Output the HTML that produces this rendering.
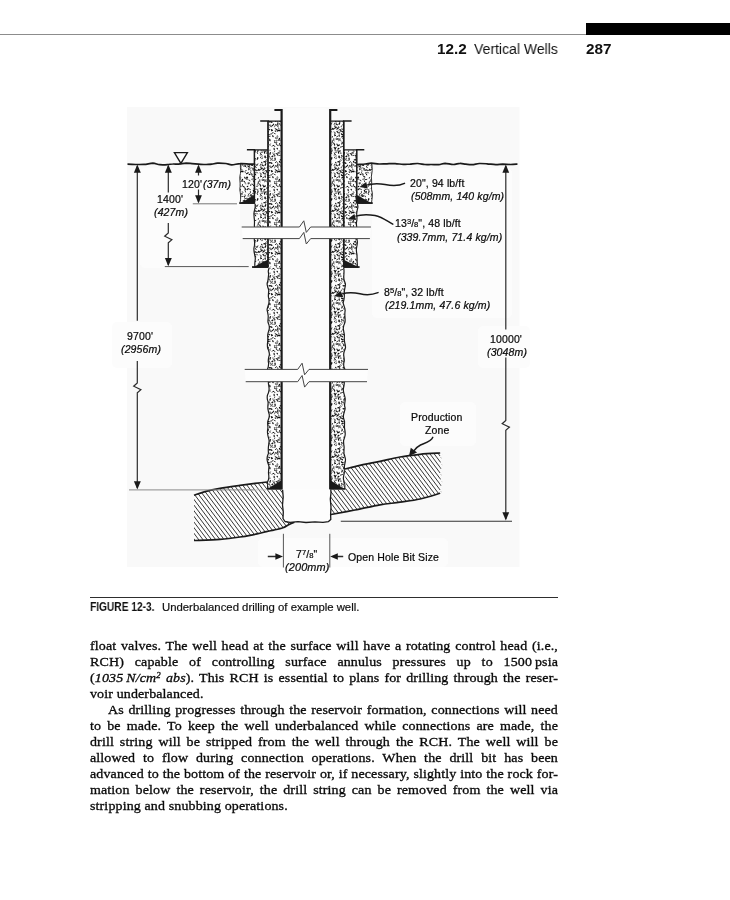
<!DOCTYPE html>
<html><head><meta charset="utf-8"><title>12.2 Vertical Wells</title>
<style>
html,body{margin:0;padding:0;background:#fff}
body{width:730px;height:900px;position:relative;overflow:hidden;font-family:"Liberation Sans",sans-serif;color:#111}
.l,.hd,.b{will-change:transform}
.l{position:absolute;font-size:10.5px;line-height:1;white-space:nowrap;letter-spacing:.13px;color:#0a0a0a;-webkit-text-stroke:.22px #0a0a0a}
.i{font-style:italic}
.fr{letter-spacing:0}
.fr .n{font-size:7.6px;position:relative;top:-3.1px}
.fr .d{font-size:7.6px;position:relative;top:0}
.hd{position:absolute;white-space:nowrap;line-height:1;color:#111}
.b{position:absolute;left:90px;width:447.85px;transform:scaleX(1.045);transform-origin:0 0;font-family:"Liberation Serif",serif;font-size:13.4px;line-height:16px;height:16px;white-space:nowrap;color:#0a0a0a;letter-spacing:.12px;-webkit-text-stroke:.32px #0a0a0a}
.b.j{white-space:normal;text-align:justify;text-align-last:justify}
.b.ind{left:108px;width:430.6px}
.b sup{font-size:8.5px;line-height:0;vertical-align:4.5px}
</style></head><body>
<div style="position:absolute;left:0;top:34px;width:587px;height:1px;background:#8c8c8c"></div>
<div style="position:absolute;left:586px;top:23px;width:144px;height:12px;background:#000"></div>
<div class="hd" style="left:436.6px;top:41.75px;font-size:14.3px;font-weight:bold;transform:scaleX(1.07);transform-origin:0 0">12.2</div>
<div class="hd" style="left:474.3px;top:40.85px;font-size:15.1px;transform:scaleX(.928);transform-origin:0 0">Vertical Wells</div>
<div class="hd" style="left:585.7px;top:41.75px;font-size:14.3px;font-weight:bold;transform:scaleX(1.07);transform-origin:0 0">287</div>
<svg width="730" height="900" viewBox="0 0 730 900" style="position:absolute;left:0;top:0">
<defs><pattern id="cem" width="37" height="41" patternUnits="userSpaceOnUse"><rect width="37" height="41" fill="#fdfdfd"/><g stroke="#0c0c0c" stroke-linecap="round" fill="none"><path d="M1.6 0.2Q1.8 1.1 1.1 1.7" stroke-width="0.70"/><path d="M1.6 41.2Q1.8 42.1 1.1 42.7" stroke-width="0.70"/><path d="M38.6 0.2Q38.8 1.1 38.1 1.7" stroke-width="0.70"/><path d="M38.6 41.2Q38.8 42.1 38.1 42.7" stroke-width="0.70"/><path d="M2.9 0.8Q3.6 1.3 4.3 1.8" stroke-width="1.10"/><path d="M2.9 41.8Q3.6 42.3 4.3 42.8" stroke-width="1.10"/><path d="M6.8 -0.3Q6.4 0.5 6.1 1.4" stroke-width="1.25"/><path d="M6.8 40.7Q6.4 41.5 6.1 42.4" stroke-width="1.25"/><path d="M9.6 2.0Q10.4 2.5 11.3 2.2" stroke-width="0.90"/><path d="M14.6 1.2Q14.1 2.0 13.4 2.7" stroke-width="1.10"/><path d="M14.6 42.2Q14.1 43.0 13.4 43.7" stroke-width="1.10"/><path d="M16.5 1.8Q16.9 1.8 17.3 2.1" stroke-width="1.25"/><path d="M18.8 0.2Q18.9 0.8 18.7 1.4" stroke-width="1.10"/><path d="M18.8 41.2Q18.9 41.8 18.7 42.4" stroke-width="1.10"/><path d="M20.7 0.8Q20.5 1.0 20.1 1.0" stroke-width="1.10"/><path d="M20.7 41.8Q20.5 42.0 20.1 42.0" stroke-width="1.10"/><path d="M23.7 1.8Q22.8 1.8 21.8 2.0" stroke-width="1.25"/><path d="M25.9 1.9Q26.2 2.1 26.4 2.4" stroke-width="1.25"/><path d="M27.4 1.4Q27.7 1.7 27.7 2.2" stroke-width="1.00"/><path d="M27.4 42.4Q27.7 42.7 27.7 43.2" stroke-width="1.00"/><path d="M29.1 1.3Q30.0 1.2 30.8 1.5" stroke-width="0.90"/><path d="M29.1 42.3Q30.0 42.2 30.8 42.5" stroke-width="0.90"/><path d="M33.6 0.7Q34.4 0.3 35.0 1.0" stroke-width="0.80"/><path d="M33.6 41.7Q34.4 41.3 35.0 42.0" stroke-width="0.80"/><path d="M-1.1 -0.1Q-1.4 0.9 -2.2 1.6" stroke-width="0.90"/><path d="M-1.1 40.9Q-1.4 41.9 -2.2 42.6" stroke-width="0.90"/><path d="M35.9 -0.1Q35.6 0.9 34.8 1.6" stroke-width="0.90"/><path d="M35.9 40.9Q35.6 41.9 34.8 42.6" stroke-width="0.90"/><path d="M1.9 2.7Q1.9 3.4 2.1 4.1" stroke-width="1.10"/><path d="M3.3 4.2Q2.9 4.4 2.5 4.8" stroke-width="1.25"/><path d="M5.8 3.8Q6.3 4.6 5.7 5.2" stroke-width="1.00"/><path d="M8.4 3.0Q8.2 3.4 8.2 3.8" stroke-width="0.90"/><path d="M12.0 2.7Q12.0 3.7 10.9 4.0" stroke-width="0.70"/><path d="M12.8 2.9Q12.5 3.3 12.4 3.8" stroke-width="0.80"/><path d="M15.8 2.9Q15.8 3.4 15.5 3.9" stroke-width="0.70"/><path d="M18.9 2.1Q19.2 2.9 18.9 3.7" stroke-width="0.90"/><path d="M23.5 2.4Q23.6 3.0 24.1 3.3" stroke-width="1.00"/><path d="M27.1 2.5Q26.8 2.8 26.5 3.1" stroke-width="0.90"/><path d="M26.9 3.2Q27.3 4.1 28.4 4.2" stroke-width="0.80"/><path d="M29.8 4.0Q30.5 4.4 31.3 4.5" stroke-width="1.00"/><path d="M33.6 2.6Q33.9 3.1 34.2 3.7" stroke-width="1.00"/><path d="M1.3 5.6Q0.6 6.0 -0.0 6.4" stroke-width="1.10"/><path d="M38.3 5.6Q37.6 6.0 37.0 6.4" stroke-width="1.10"/><path d="M5.2 4.8Q4.4 5.3 3.9 6.2" stroke-width="1.10"/><path d="M7.1 6.4Q6.0 6.1 5.4 7.2" stroke-width="0.70"/><path d="M8.3 6.0Q7.2 6.4 7.2 7.6" stroke-width="1.00"/><path d="M9.7 6.2Q10.1 6.6 10.6 6.8" stroke-width="1.10"/><path d="M12.3 6.7Q12.6 7.1 13.1 7.0" stroke-width="1.10"/><path d="M16.0 5.3Q16.4 6.0 17.2 6.2" stroke-width="0.80"/><path d="M17.1 6.4Q18.1 6.8 19.0 7.2" stroke-width="1.10"/><path d="M19.6 5.1Q20.1 5.5 20.5 6.1" stroke-width="1.00"/><path d="M24.3 6.5Q24.2 6.9 23.8 6.9" stroke-width="1.00"/><path d="M26.6 4.7Q26.8 5.2 26.6 5.8" stroke-width="0.90"/><path d="M27.4 4.9Q28.2 5.6 28.8 6.4" stroke-width="0.80"/><path d="M30.8 5.7Q31.3 5.7 31.7 5.9" stroke-width="1.10"/><path d="M32.4 6.2Q33.5 5.6 34.3 6.4" stroke-width="1.25"/><path d="M-0.5 5.3Q-0.6 6.0 -1.2 6.4" stroke-width="1.10"/><path d="M36.5 5.3Q36.4 6.0 35.8 6.4" stroke-width="1.10"/><path d="M1.1 8.8Q1.6 8.8 1.7 9.3" stroke-width="0.90"/><path d="M38.1 8.8Q38.6 8.8 38.7 9.3" stroke-width="0.90"/><path d="M4.0 8.5Q4.8 8.7 4.9 9.5" stroke-width="1.25"/><path d="M7.4 8.3Q6.9 9.0 6.5 9.7" stroke-width="0.70"/><path d="M8.6 8.0Q9.0 8.4 9.5 8.8" stroke-width="1.10"/><path d="M13.3 7.3Q12.8 7.3 12.6 7.7" stroke-width="1.25"/><path d="M16.2 7.7Q16.2 8.2 16.6 8.3" stroke-width="1.10"/><path d="M19.6 7.0Q19.4 8.2 18.2 8.4" stroke-width="0.90"/><path d="M21.1 7.6Q20.3 7.7 19.6 7.6" stroke-width="1.25"/><path d="M23.0 7.7Q23.3 8.2 23.4 8.7" stroke-width="0.70"/><path d="M26.3 8.8Q25.4 9.4 24.5 9.8" stroke-width="1.10"/><path d="M28.7 7.7Q28.2 8.5 28.7 9.3" stroke-width="0.80"/><path d="M34.0 8.7Q33.2 8.4 32.5 8.9" stroke-width="0.80"/><path d="M34.9 8.2Q35.1 8.7 35.4 9.0" stroke-width="0.90"/><path d="M2.2 10.0Q1.3 10.9 1.7 12.0" stroke-width="0.90"/><path d="M5.7 9.7Q5.7 10.3 6.2 10.7" stroke-width="0.80"/><path d="M8.4 10.8Q8.7 11.6 9.6 11.7" stroke-width="1.25"/><path d="M11.6 11.0Q11.0 11.1 10.5 11.5" stroke-width="0.70"/><path d="M13.5 9.7Q12.6 10.0 12.5 11.0" stroke-width="0.90"/><path d="M14.7 9.9Q15.2 10.8 16.1 10.8" stroke-width="0.90"/><path d="M27.9 10.3Q27.6 10.4 27.3 10.5" stroke-width="1.25"/><path d="M29.7 9.9Q30.2 10.5 30.0 11.2" stroke-width="1.10"/><path d="M32.8 9.3Q33.8 9.8 33.8 10.9" stroke-width="1.00"/><path d="M2.6 12.4Q2.0 12.2 1.5 12.6" stroke-width="1.00"/><path d="M39.6 12.4Q39.0 12.2 38.5 12.6" stroke-width="1.00"/><path d="M4.5 13.3Q3.9 13.4 3.6 13.8" stroke-width="0.90"/><path d="M6.2 12.0Q6.0 12.5 6.2 13.1" stroke-width="1.25"/><path d="M9.4 13.2Q9.2 13.6 8.8 13.9" stroke-width="1.25"/><path d="M11.1 13.2Q10.3 13.2 9.6 13.6" stroke-width="1.00"/><path d="M13.6 12.8Q14.1 13.0 14.1 13.5" stroke-width="1.25"/><path d="M18.2 12.9Q18.8 12.7 19.1 13.2" stroke-width="0.80"/><path d="M22.7 13.3Q23.0 13.7 23.2 14.3" stroke-width="1.10"/><path d="M25.5 13.3Q25.0 13.2 24.6 13.3" stroke-width="1.25"/><path d="M30.8 12.3Q31.1 12.9 31.8 13.0" stroke-width="1.25"/><path d="M-0.5 13.4Q-0.3 13.9 -0.6 14.3" stroke-width="0.90"/><path d="M36.5 13.4Q36.7 13.9 36.4 14.3" stroke-width="0.90"/><path d="M0.7 15.7Q0.5 16.4 0.9 16.9" stroke-width="0.90"/><path d="M37.7 15.7Q37.5 16.4 37.9 16.9" stroke-width="0.90"/><path d="M4.7 15.9Q3.9 16.2 3.1 16.0" stroke-width="1.25"/><path d="M5.5 16.1Q6.4 16.3 7.2 16.1" stroke-width="1.00"/><path d="M9.8 15.7Q10.1 16.7 11.2 16.8" stroke-width="1.00"/><path d="M16.3 14.6Q16.1 15.0 16.4 15.4" stroke-width="0.70"/><path d="M18.1 13.9Q18.3 14.9 17.9 15.9" stroke-width="0.90"/><path d="M20.6 15.4Q19.9 16.3 19.9 17.3" stroke-width="1.25"/><path d="M24.0 15.0Q24.4 15.2 24.9 15.2" stroke-width="0.80"/><path d="M24.7 14.7Q25.2 14.6 25.6 14.9" stroke-width="1.00"/><path d="M27.0 15.9Q27.8 16.0 28.0 16.8" stroke-width="1.00"/><path d="M31.4 14.8Q30.7 15.2 29.8 15.3" stroke-width="0.90"/><path d="M33.9 15.4Q33.1 15.8 32.1 15.6" stroke-width="0.90"/><path d="M0.1 17.2Q0.8 17.3 1.2 17.8" stroke-width="0.70"/><path d="M37.1 17.2Q37.8 17.3 38.2 17.8" stroke-width="0.70"/><path d="M6.6 17.2Q6.1 17.6 5.5 17.8" stroke-width="0.70"/><path d="M7.6 17.6Q7.5 18.0 7.8 18.2" stroke-width="0.80"/><path d="M10.7 17.2Q10.7 17.6 11.1 17.8" stroke-width="1.10"/><path d="M15.5 17.6Q15.9 18.6 15.7 19.6" stroke-width="0.80"/><path d="M18.1 17.8Q17.6 18.2 17.0 17.8" stroke-width="1.00"/><path d="M20.8 17.1Q21.2 16.9 21.5 17.2" stroke-width="0.70"/><path d="M22.3 17.3Q22.5 18.3 23.3 18.9" stroke-width="0.90"/><path d="M26.2 18.9Q26.7 19.0 27.2 19.0" stroke-width="1.00"/><path d="M31.3 16.8Q31.4 17.4 31.7 17.9" stroke-width="1.00"/><path d="M-0.6 17.8Q-0.6 18.8 -0.9 19.7" stroke-width="1.00"/><path d="M36.4 17.8Q36.4 18.8 36.1 19.7" stroke-width="1.00"/><path d="M0.7 20.1Q1.1 20.9 1.6 21.7" stroke-width="1.10"/><path d="M37.7 20.1Q38.1 20.9 38.6 21.7" stroke-width="1.10"/><path d="M3.7 21.3Q4.1 21.5 4.5 21.4" stroke-width="1.00"/><path d="M9.2 19.3Q9.6 20.4 8.7 21.0" stroke-width="1.10"/><path d="M11.4 20.9Q11.1 21.3 10.6 21.7" stroke-width="0.70"/><path d="M16.5 19.7Q16.6 20.4 17.2 20.7" stroke-width="0.80"/><path d="M17.9 19.2Q18.1 20.1 17.3 20.5" stroke-width="0.80"/><path d="M20.4 20.5Q20.0 21.2 20.4 21.9" stroke-width="0.90"/><path d="M23.2 19.7Q23.4 20.1 23.8 20.1" stroke-width="0.70"/><path d="M27.1 19.6Q26.7 20.0 26.1 19.8" stroke-width="1.00"/><path d="M29.4 19.9Q28.5 20.5 28.6 21.5" stroke-width="0.90"/><path d="M30.5 20.2Q31.2 21.0 31.8 21.8" stroke-width="1.00"/><path d="M-1.8 20.8Q-1.3 20.9 -0.8 21.1" stroke-width="0.70"/><path d="M35.2 20.8Q35.7 20.9 36.2 21.1" stroke-width="0.70"/><path d="M1.9 22.4Q1.6 22.6 1.3 22.9" stroke-width="0.80"/><path d="M38.9 22.4Q38.6 22.6 38.3 22.9" stroke-width="0.80"/><path d="M4.6 22.2Q4.8 22.6 4.8 22.9" stroke-width="0.80"/><path d="M6.4 22.0Q5.6 22.4 4.8 22.7" stroke-width="1.25"/><path d="M9.4 23.5Q8.5 23.8 7.5 24.1" stroke-width="1.00"/><path d="M11.6 22.0Q11.2 21.8 11.0 22.1" stroke-width="0.70"/><path d="M13.3 22.7Q13.0 22.9 13.0 23.2" stroke-width="0.90"/><path d="M14.4 22.3Q15.4 22.4 15.8 23.4" stroke-width="1.00"/><path d="M17.6 21.7Q18.2 22.3 19.1 22.5" stroke-width="1.00"/><path d="M21.2 22.4Q21.7 22.6 22.2 22.9" stroke-width="1.10"/><path d="M22.7 23.5Q22.9 23.8 23.1 24.0" stroke-width="0.90"/><path d="M25.8 22.2Q25.6 22.6 25.2 22.6" stroke-width="1.10"/><path d="M32.8 23.5Q32.1 23.5 31.9 24.2" stroke-width="0.90"/><path d="M34.2 22.3Q34.9 22.1 35.5 22.3" stroke-width="0.70"/><path d="M1.3 24.6Q1.8 25.2 2.4 25.8" stroke-width="1.25"/><path d="M38.3 24.6Q38.8 25.2 39.4 25.8" stroke-width="1.25"/><path d="M3.1 24.4Q2.3 25.0 2.5 25.9" stroke-width="1.10"/><path d="M6.0 25.4Q5.2 25.5 4.9 26.2" stroke-width="1.10"/><path d="M15.1 25.2Q14.9 26.0 15.3 26.6" stroke-width="1.10"/><path d="M18.0 25.3Q18.4 25.5 18.5 25.9" stroke-width="1.10"/><path d="M23.0 24.5Q23.3 24.9 23.7 25.3" stroke-width="1.10"/><path d="M26.8 24.7Q25.7 24.6 25.1 25.6" stroke-width="1.10"/><path d="M27.6 25.4Q27.9 25.7 28.4 25.7" stroke-width="0.90"/><path d="M34.0 25.0Q33.0 25.1 32.1 25.7" stroke-width="0.80"/><path d="M-1.0 25.5Q-1.5 26.0 -2.1 25.7" stroke-width="0.80"/><path d="M36.0 25.5Q35.5 26.0 34.9 25.7" stroke-width="0.80"/><path d="M1.9 26.9Q2.4 27.3 2.3 27.9" stroke-width="0.90"/><path d="M5.3 27.6Q4.5 27.5 3.6 27.8" stroke-width="0.70"/><path d="M7.1 27.8Q6.9 28.1 6.6 28.2" stroke-width="1.25"/><path d="M11.1 27.0Q11.2 27.3 11.0 27.6" stroke-width="0.80"/><path d="M15.8 28.0Q15.8 28.9 15.0 29.4" stroke-width="0.70"/><path d="M20.2 27.9Q20.6 28.0 21.0 28.2" stroke-width="0.80"/><path d="M22.8 26.0Q23.5 26.9 23.6 28.0" stroke-width="0.80"/><path d="M28.5 27.6Q28.9 28.8 27.8 29.5" stroke-width="0.90"/><path d="M31.3 26.3Q31.8 27.2 32.2 28.2" stroke-width="1.25"/><path d="M33.3 27.3Q33.3 28.2 33.2 29.1" stroke-width="1.00"/><path d="M-1.1 26.7Q-0.7 27.7 -1.3 28.5" stroke-width="1.10"/><path d="M35.9 26.7Q36.3 27.7 35.7 28.5" stroke-width="1.10"/><path d="M1.2 29.9Q1.2 31.0 2.3 31.4" stroke-width="0.90"/><path d="M38.2 29.9Q38.2 31.0 39.3 31.4" stroke-width="0.90"/><path d="M3.7 29.2Q3.1 28.9 2.5 29.3" stroke-width="0.70"/><path d="M5.3 28.7Q5.6 29.4 5.7 30.1" stroke-width="1.25"/><path d="M7.8 29.8Q7.8 30.2 7.9 30.6" stroke-width="0.90"/><path d="M11.5 29.6Q10.9 30.3 11.0 31.2" stroke-width="1.25"/><path d="M13.6 30.0Q14.6 30.6 14.9 31.6" stroke-width="0.70"/><path d="M15.8 30.7Q15.5 31.1 15.2 31.5" stroke-width="0.90"/><path d="M19.4 29.8Q18.4 30.2 17.5 30.6" stroke-width="1.00"/><path d="M20.2 29.2Q20.3 30.0 20.0 30.7" stroke-width="0.80"/><path d="M23.0 30.7Q23.2 31.1 23.4 31.5" stroke-width="0.70"/><path d="M26.4 30.1Q26.6 30.6 26.8 31.0" stroke-width="1.00"/><path d="M28.5 30.3Q29.2 30.3 29.8 30.7" stroke-width="0.70"/><path d="M30.5 29.3Q31.1 29.3 31.6 29.6" stroke-width="0.70"/><path d="M-1.9 29.3Q-2.0 30.2 -1.3 30.8" stroke-width="0.80"/><path d="M35.1 29.3Q35.0 30.2 35.7 30.8" stroke-width="0.80"/><path d="M2.1 31.6Q1.6 31.8 1.1 32.0" stroke-width="0.90"/><path d="M39.1 31.6Q38.6 31.8 38.1 32.0" stroke-width="0.90"/><path d="M3.2 32.8Q3.3 33.3 3.0 33.5" stroke-width="0.90"/><path d="M6.1 33.1Q6.3 33.5 6.2 33.9" stroke-width="1.25"/><path d="M8.8 32.5Q8.6 32.9 9.0 33.2" stroke-width="1.25"/><path d="M10.6 32.9Q10.0 33.1 9.9 33.7" stroke-width="0.90"/><path d="M13.9 33.0Q13.4 33.4 12.9 33.6" stroke-width="1.10"/><path d="M16.0 32.8Q15.7 32.8 15.3 32.9" stroke-width="1.10"/><path d="M18.2 31.3Q18.4 32.0 19.1 32.2" stroke-width="1.10"/><path d="M21.1 32.4Q20.7 32.4 20.2 32.5" stroke-width="0.90"/><path d="M22.9 32.1Q22.5 32.5 22.5 33.1" stroke-width="1.10"/><path d="M25.8 31.9Q26.4 31.8 27.0 32.1" stroke-width="0.80"/><path d="M28.5 31.7Q28.9 32.4 29.7 32.2" stroke-width="1.10"/><path d="M29.6 31.9Q30.3 31.8 30.9 32.0" stroke-width="1.25"/><path d="M32.3 32.0Q32.6 32.3 32.6 32.8" stroke-width="0.90"/><path d="M1.4 34.1Q1.9 34.3 1.9 34.8" stroke-width="1.00"/><path d="M38.4 34.1Q38.9 34.3 38.9 34.8" stroke-width="1.00"/><path d="M3.3 34.9Q3.0 35.2 3.0 35.7" stroke-width="1.00"/><path d="M5.7 33.9Q6.3 34.1 6.4 34.8" stroke-width="1.10"/><path d="M8.0 34.4Q8.4 35.3 9.3 35.9" stroke-width="0.80"/><path d="M10.9 34.2Q10.8 35.0 11.3 35.7" stroke-width="0.70"/><path d="M13.3 35.1Q13.2 35.4 13.2 35.8" stroke-width="0.90"/><path d="M16.0 35.0Q16.0 35.7 16.2 36.3" stroke-width="1.25"/><path d="M24.4 34.3Q23.5 34.5 22.6 34.9" stroke-width="1.00"/><path d="M25.6 34.5Q26.4 34.9 27.2 34.6" stroke-width="0.90"/><path d="M27.8 34.0Q27.9 34.5 28.4 34.7" stroke-width="1.25"/><path d="M32.4 35.1Q33.1 35.2 33.5 35.7" stroke-width="1.00"/><path d="M-1.2 34.6Q-1.1 35.5 -1.8 36.2" stroke-width="1.25"/><path d="M35.8 34.6Q35.9 35.5 35.2 36.2" stroke-width="1.25"/><path d="M7.0 37.5Q7.4 38.1 7.0 38.7" stroke-width="0.90"/><path d="M7.8 36.7Q8.1 36.9 8.4 37.2" stroke-width="0.80"/><path d="M12.2 36.1Q12.3 36.8 11.9 37.4" stroke-width="0.80"/><path d="M12.9 36.8Q12.9 37.2 13.3 37.4" stroke-width="0.80"/><path d="M16.0 37.3Q15.5 37.1 14.9 37.3" stroke-width="0.80"/><path d="M22.5 36.5Q22.0 36.7 21.3 36.9" stroke-width="1.10"/><path d="M22.8 37.5Q23.2 38.0 23.8 38.5" stroke-width="1.00"/><path d="M29.1 37.6Q30.0 37.6 30.6 38.3" stroke-width="1.25"/><path d="M33.2 35.7Q32.5 36.4 32.9 37.3" stroke-width="0.80"/><path d="M2.6 -1.7Q2.9 -1.4 3.1 -1.0" stroke-width="1.10"/><path d="M2.6 39.3Q2.9 39.6 3.1 40.0" stroke-width="1.10"/><path d="M4.9 38.8Q5.8 38.5 6.5 39.2" stroke-width="1.25"/><path d="M11.6 -1.3Q10.9 -1.0 10.1 -1.3" stroke-width="1.25"/><path d="M11.6 39.7Q10.9 40.0 10.1 39.7" stroke-width="1.25"/><path d="M12.6 -1.1Q12.8 -0.9 12.8 -0.6" stroke-width="1.25"/><path d="M12.6 39.9Q12.8 40.1 12.8 40.4" stroke-width="1.25"/><path d="M17.4 38.7Q16.8 38.8 16.5 39.4" stroke-width="1.00"/><path d="M18.8 -1.4Q19.3 -1.0 19.0 -0.5" stroke-width="0.80"/><path d="M18.8 39.6Q19.3 40.0 19.0 40.5" stroke-width="0.80"/><path d="M20.4 -2.6Q20.8 -2.0 21.2 -1.4" stroke-width="1.10"/><path d="M20.4 38.4Q20.8 39.0 21.2 39.6" stroke-width="1.10"/><path d="M22.8 -1.8Q22.7 -1.4 22.5 -0.9" stroke-width="1.10"/><path d="M22.8 39.2Q22.7 39.6 22.5 40.1" stroke-width="1.10"/><path d="M26.8 -1.8Q26.4 -1.0 26.0 -0.3" stroke-width="1.00"/><path d="M26.8 39.2Q26.4 40.0 26.0 40.7" stroke-width="1.00"/><path d="M28.9 -2.5Q29.2 -1.9 29.1 -1.1" stroke-width="1.10"/><path d="M28.9 38.5Q29.2 39.1 29.1 39.9" stroke-width="1.10"/><path d="M29.7 -1.7Q30.4 -1.3 30.5 -0.6" stroke-width="1.10"/><path d="M29.7 39.3Q30.4 39.7 30.5 40.4" stroke-width="1.10"/><path d="M32.5 -1.7Q32.2 -1.2 32.6 -0.7" stroke-width="1.00"/><path d="M32.5 39.3Q32.2 39.8 32.6 40.3" stroke-width="1.00"/></g></pattern>
<pattern id="hat" width="3.42" height="12" patternUnits="userSpaceOnUse" patternTransform="rotate(-37)"><rect width="3.42" height="12" fill="#fdfdfd"/><line x1="1.2" y1="-1" x2="1.2" y2="13" stroke="#2a2a2a" stroke-width="0.95"/></pattern>
</defs>
<rect x="127" y="107" width="392.5" height="460" fill="#f9f9f9"/>
<rect x="140" y="168" width="100" height="100" rx="5" fill="#fcfcfc"/>
<rect x="372" y="168" width="140" height="150" rx="5" fill="#fcfcfc"/>
<rect x="112" y="322" width="60" height="46" rx="5" fill="#fcfcfc"/>
<rect x="478" y="326" width="52" height="42" rx="5" fill="#fcfcfc"/>
<rect x="400" y="402" width="76" height="44" rx="5" fill="#fcfcfc"/>
<rect x="258" y="538" width="190" height="29" rx="5" fill="#fcfcfc"/>
<rect x="283" y="108" width="46" height="412" rx="5" fill="#fcfcfc"/>
<path d="M254.4 164.0 L240.4 164.0 L240.4 167.2 L240.7 170.4 L240.4 173.6 L239.8 176.8 L239.9 180.0 L240.1 183.2 L240.1 186.4 L239.8 189.6 L240.3 192.8 L240.6 196.0 L240.6 199.2 L240.2 202.4 L239.9 203.5 L254.4 203.5Z M356.8 164.0 L371.9 164.0 L372.1 167.2 L372.2 170.4 L371.8 173.6 L371.3 176.8 L371.6 180.0 L371.7 183.2 L371.5 186.4 L371.6 189.6 L372.3 192.8 L372.3 196.0 L372.0 199.2 L371.6 202.4 L371.9 203.5 L356.8 203.5Z M254.4 150H268V204H254.4Z M356.8 150H343.8V204H356.8Z M268.0 203.5 L255.1 203.5 L255.2 207.0 L254.5 210.2 L254.0 213.4 L254.1 216.6 L254.4 219.8 L254.5 223.0 L254.4 226.2 L255.0 229.4 L255.1 232.6 L254.7 235.8 L254.3 239.0 L254.6 242.2 L254.5 245.4 L253.9 248.6 L254.1 251.8 L254.7 255.0 L255.3 258.2 L255.0 261.4 L254.8 264.6 L254.9 267.5 L268.0 267.5Z M343.8 203.5 L357.4 203.5 L357.9 207.0 L357.2 210.2 L356.7 213.4 L356.9 216.6 L356.9 219.8 L356.4 223.0 L356.6 226.2 L357.1 229.4 L357.6 232.6 L357.2 235.8 L357.0 239.0 L357.4 242.2 L357.0 245.4 L356.4 248.6 L356.5 251.8 L357.0 255.0 L357.1 258.2 L357.1 261.4 L357.3 264.6 L357.4 267.5 L343.8 267.5Z M268 121H281.6V268H268Z M343.8 121H330.2V268H343.8Z M281.6 267.5 L269.1 267.5 L268.3 271.0 L268.6 274.2 L268.3 277.4 L267.9 280.6 L267.1 283.8 L267.7 287.0 L268.7 290.2 L268.5 293.4 L268.4 296.6 L269.0 299.8 L268.9 303.0 L268.0 306.2 L267.1 309.4 L267.7 312.6 L268.2 315.8 L268.1 319.0 L268.0 322.2 L269.1 325.4 L269.3 328.6 L268.4 331.8 L267.7 335.0 L267.8 338.2 L267.7 341.4 L267.4 344.6 L267.6 347.8 L268.8 351.0 L269.4 354.2 L268.7 357.4 L268.3 360.6 L268.6 363.8 L268.2 367.0 L267.2 370.2 L267.5 373.4 L268.1 376.6 L268.6 379.8 L268.4 383.0 L268.8 386.2 L269.1 389.4 L268.5 392.6 L267.3 395.8 L267.3 399.0 L268.1 402.2 L267.9 405.4 L267.9 408.6 L268.5 411.8 L269.3 415.0 L268.9 418.2 L267.8 421.4 L267.7 424.6 L267.9 427.8 L267.5 431.0 L267.7 434.2 L268.4 437.4 L269.1 440.6 L268.8 443.8 L268.4 447.0 L268.3 450.2 L268.4 453.4 L267.3 456.6 L267.1 459.8 L267.9 463.0 L268.9 466.2 L268.7 469.4 L268.5 472.6 L268.8 475.8 L268.7 479.0 L267.5 482.2 L267.3 485.4 L268.0 488.6 L268.1 489.5 L281.6 489.5Z M330.2 267.5 L343.7 267.5 L344.0 271.0 L343.9 274.2 L343.8 277.4 L344.3 280.6 L345.4 283.8 L345.1 287.0 L344.5 290.2 L344.3 293.4 L344.3 296.6 L343.9 299.8 L343.2 303.0 L344.1 306.2 L345.1 309.4 L344.9 312.6 L344.9 315.8 L345.1 319.0 L345.0 322.2 L343.8 325.4 L343.3 328.6 L343.8 331.8 L344.4 335.0 L344.3 338.2 L344.5 341.4 L345.2 344.6 L345.5 347.8 L344.3 351.0 L343.7 354.2 L344.0 357.4 L344.3 360.6 L343.7 363.8 L343.9 367.0 L345.3 370.2 L345.6 373.4 L344.8 376.6 L344.3 379.8 L344.3 383.0 L343.9 386.2 L343.3 389.4 L343.7 392.6 L344.6 395.8 L345.2 399.0 L344.9 402.2 L344.6 405.4 L345.1 408.6 L344.3 411.8 L343.5 415.0 L343.5 418.2 L344.5 421.4 L344.5 424.6 L344.5 427.8 L345.0 431.0 L345.2 434.2 L344.6 437.4 L343.6 440.6 L343.7 443.8 L344.1 447.0 L344.0 450.2 L344.0 453.4 L344.8 456.6 L345.5 459.8 L345.0 463.0 L344.4 466.2 L344.4 469.4 L344.3 472.6 L343.7 475.8 L343.4 479.0 L344.3 482.2 L345.1 485.4 L344.8 488.6 L344.6 489.5 L330.2 489.5Z" fill="url(#cem)"/>
<path d="M240.4 164.0 L240.4 167.2 L240.7 170.4 L240.4 173.6 L239.8 176.8 L239.9 180.0 L240.1 183.2 L240.1 186.4 L239.8 189.6 L240.3 192.8 L240.6 196.0 L240.6 199.2 L240.2 202.4 L239.9 203.5" fill="none" stroke="#333" stroke-width="1"/>
<path d="M371.9 164.0 L372.1 167.2 L372.2 170.4 L371.8 173.6 L371.3 176.8 L371.6 180.0 L371.7 183.2 L371.5 186.4 L371.6 189.6 L372.3 192.8 L372.3 196.0 L372.0 199.2 L371.6 202.4 L371.9 203.5" fill="none" stroke="#333" stroke-width="1"/>
<path d="M255.1 203.8C255.1 204.3 255.3 205.9 255.2 207.0C255.1 208.1 254.7 209.1 254.5 210.2C254.2 211.3 254.0 212.3 254.0 213.4C253.9 214.5 254.0 215.5 254.1 216.6C254.1 217.7 254.3 218.7 254.4 219.8C254.5 220.9 254.5 221.9 254.5 223.0C254.5 224.1 254.3 225.1 254.4 226.2C254.4 227.3 254.9 228.3 255.0 229.4C255.2 230.5 255.2 231.5 255.1 232.6C255.1 233.7 254.8 234.7 254.7 235.8C254.6 236.9 254.4 237.9 254.3 239.0C254.3 240.1 254.5 241.1 254.6 242.2C254.6 243.3 254.6 244.3 254.5 245.4C254.3 246.5 254.0 247.5 253.9 248.6C253.9 249.7 254.0 250.7 254.1 251.8C254.3 252.9 254.5 253.9 254.7 255.0C254.9 256.1 255.3 257.1 255.3 258.2C255.4 259.3 255.1 260.3 255.0 261.4C254.9 262.5 254.8 263.6 254.8 264.6C254.8 265.6 254.9 267.0 254.9 267.5" fill="none" stroke="#1c1c1c" stroke-width="1.2"/>
<path d="M357.4 203.8C357.5 204.3 357.9 205.9 357.9 207.0C357.8 208.1 357.4 209.1 357.2 210.2C357.0 211.3 356.8 212.3 356.7 213.4C356.7 214.5 356.9 215.5 356.9 216.6C357.0 217.7 357.0 218.7 356.9 219.8C356.8 220.9 356.5 221.9 356.4 223.0C356.4 224.1 356.5 225.1 356.6 226.2C356.7 227.3 356.9 228.3 357.1 229.4C357.3 230.5 357.6 231.5 357.6 232.6C357.7 233.7 357.3 234.7 357.2 235.8C357.1 236.9 357.0 237.9 357.0 239.0C357.0 240.1 357.4 241.1 357.4 242.2C357.4 243.3 357.1 244.3 357.0 245.4C356.8 246.5 356.5 247.5 356.4 248.6C356.3 249.7 356.4 250.7 356.5 251.8C356.6 252.9 356.9 253.9 357.0 255.0C357.0 256.1 357.0 257.1 357.1 258.2C357.1 259.3 357.1 260.3 357.1 261.4C357.2 262.5 357.3 263.6 357.3 264.6C357.3 265.6 357.4 267.0 357.4 267.5" fill="none" stroke="#1c1c1c" stroke-width="1.2"/>
<path d="M269.1 267.8C269.0 268.3 268.4 269.9 268.3 271.0C268.2 272.1 268.6 273.1 268.6 274.2C268.6 275.3 268.4 276.3 268.3 277.4C268.2 278.5 268.1 279.5 267.9 280.6C267.7 281.7 267.2 282.7 267.1 283.8C267.1 284.9 267.5 285.9 267.7 287.0C268.0 288.1 268.6 289.1 268.7 290.2C268.8 291.3 268.5 292.3 268.5 293.4C268.4 294.5 268.3 295.5 268.4 296.6C268.5 297.7 268.9 298.7 269.0 299.8C269.0 300.9 269.1 301.9 268.9 303.0C268.8 304.1 268.3 305.1 268.0 306.2C267.7 307.3 267.2 308.3 267.1 309.4C267.1 310.5 267.5 311.5 267.7 312.6C267.8 313.7 268.1 314.7 268.2 315.8C268.3 316.9 268.1 317.9 268.1 319.0C268.0 320.1 267.8 321.1 268.0 322.2C268.2 323.3 268.9 324.3 269.1 325.4C269.4 326.5 269.4 327.5 269.3 328.6C269.2 329.7 268.6 330.7 268.4 331.8C268.1 332.9 267.8 333.9 267.7 335.0C267.6 336.1 267.8 337.1 267.8 338.2C267.8 339.3 267.8 340.3 267.7 341.4C267.6 342.5 267.4 343.5 267.4 344.6C267.4 345.7 267.4 346.7 267.6 347.8C267.8 348.9 268.5 349.9 268.8 351.0C269.1 352.1 269.4 353.1 269.4 354.2C269.4 355.3 268.9 356.3 268.7 357.4C268.5 358.5 268.3 359.5 268.3 360.6C268.2 361.7 268.6 362.7 268.6 363.8C268.6 364.9 268.4 365.9 268.2 367.0C268.0 368.1 267.3 369.1 267.2 370.2C267.1 371.3 267.3 372.3 267.5 373.4C267.6 374.5 267.9 375.5 268.1 376.6C268.3 377.7 268.5 378.7 268.6 379.8C268.6 380.9 268.3 381.9 268.4 383.0C268.4 384.1 268.7 385.1 268.8 386.2C269.0 387.3 269.2 388.3 269.1 389.4C269.0 390.5 268.8 391.5 268.5 392.6C268.2 393.7 267.5 394.7 267.3 395.8C267.1 396.9 267.2 397.9 267.3 399.0C267.4 400.1 268.0 401.1 268.1 402.2C268.2 403.3 268.0 404.3 267.9 405.4C267.9 406.5 267.8 407.5 267.9 408.6C268.0 409.7 268.3 410.7 268.5 411.8C268.8 412.9 269.2 413.9 269.3 415.0C269.4 416.1 269.2 417.1 268.9 418.2C268.7 419.3 268.0 420.3 267.8 421.4C267.6 422.5 267.6 423.5 267.7 424.6C267.7 425.7 268.0 426.7 267.9 427.8C267.9 428.9 267.5 429.9 267.5 431.0C267.4 432.1 267.5 433.1 267.7 434.2C267.8 435.3 268.1 436.3 268.4 437.4C268.6 438.5 269.0 439.5 269.1 440.6C269.2 441.7 268.9 442.7 268.8 443.8C268.7 444.9 268.5 445.9 268.4 447.0C268.3 448.1 268.3 449.1 268.3 450.2C268.2 451.3 268.5 452.3 268.4 453.4C268.2 454.5 267.5 455.5 267.3 456.6C267.1 457.7 267.0 458.7 267.1 459.8C267.2 460.9 267.5 461.9 267.9 463.0C268.2 464.1 268.8 465.1 268.9 466.2C269.1 467.3 268.8 468.3 268.7 469.4C268.7 470.5 268.5 471.5 268.5 472.6C268.5 473.7 268.7 474.7 268.8 475.8C268.8 476.9 268.9 477.9 268.7 479.0C268.4 480.1 267.8 481.1 267.5 482.2C267.3 483.3 267.2 484.3 267.3 485.4C267.4 486.5 267.8 487.9 268.0 488.6C268.1 489.3 268.0 489.3 268.1 489.5" fill="none" stroke="#1c1c1c" stroke-width="1.2"/>
<path d="M343.7 267.8C343.8 268.3 344.0 269.9 344.0 271.0C344.1 272.1 344.0 273.1 343.9 274.2C343.9 275.3 343.7 276.3 343.8 277.4C343.8 278.5 344.0 279.5 344.3 280.6C344.6 281.7 345.3 282.7 345.4 283.8C345.6 284.9 345.2 285.9 345.1 287.0C344.9 288.1 344.6 289.1 344.5 290.2C344.3 291.3 344.3 292.3 344.3 293.4C344.3 294.5 344.4 295.5 344.3 296.6C344.2 297.7 344.1 298.7 343.9 299.8C343.7 300.9 343.2 301.9 343.2 303.0C343.3 304.1 343.8 305.1 344.1 306.2C344.4 307.3 345.0 308.3 345.1 309.4C345.3 310.5 344.9 311.5 344.9 312.6C344.8 313.7 344.8 314.7 344.9 315.8C344.9 316.9 345.0 317.9 345.1 319.0C345.1 320.1 345.2 321.1 345.0 322.2C344.8 323.3 344.1 324.3 343.8 325.4C343.5 326.5 343.3 327.5 343.3 328.6C343.3 329.7 343.7 330.7 343.8 331.8C344.0 332.9 344.3 333.9 344.4 335.0C344.4 336.1 344.3 337.1 344.3 338.2C344.3 339.3 344.3 340.3 344.5 341.4C344.6 342.5 345.0 343.5 345.2 344.6C345.3 345.7 345.6 346.7 345.5 347.8C345.4 348.9 344.7 349.9 344.3 351.0C344.0 352.1 343.7 353.1 343.7 354.2C343.6 355.3 343.9 356.3 344.0 357.4C344.1 358.5 344.3 359.5 344.3 360.6C344.2 361.7 343.8 362.7 343.7 363.8C343.6 364.9 343.7 365.9 343.9 367.0C344.2 368.1 345.1 369.1 345.3 370.2C345.6 371.3 345.7 372.3 345.6 373.4C345.5 374.5 345.1 375.5 344.8 376.6C344.6 377.7 344.4 378.7 344.3 379.8C344.2 380.9 344.3 381.9 344.3 383.0C344.2 384.1 344.1 385.1 343.9 386.2C343.7 387.3 343.3 388.3 343.3 389.4C343.3 390.5 343.5 391.5 343.7 392.6C343.9 393.7 344.3 394.7 344.6 395.8C344.9 396.9 345.2 397.9 345.2 399.0C345.3 400.1 345.0 401.1 344.9 402.2C344.8 403.3 344.5 404.3 344.6 405.4C344.6 406.5 345.2 407.5 345.1 408.6C345.1 409.7 344.6 410.7 344.3 411.8C344.1 412.9 343.7 413.9 343.5 415.0C343.4 416.1 343.4 417.1 343.5 418.2C343.7 419.3 344.3 420.3 344.5 421.4C344.6 422.5 344.5 423.5 344.5 424.6C344.5 425.7 344.4 426.7 344.5 427.8C344.6 428.9 344.9 429.9 345.0 431.0C345.1 432.1 345.3 433.1 345.2 434.2C345.2 435.3 344.9 436.3 344.6 437.4C344.3 438.5 343.8 439.5 343.6 440.6C343.5 441.7 343.6 442.7 343.7 443.8C343.8 444.9 344.0 445.9 344.1 447.0C344.1 448.1 344.0 449.1 344.0 450.2C343.9 451.3 343.9 452.3 344.0 453.4C344.2 454.5 344.6 455.5 344.8 456.6C345.1 457.7 345.4 458.7 345.5 459.8C345.5 460.9 345.2 461.9 345.0 463.0C344.8 464.1 344.5 465.1 344.4 466.2C344.3 467.3 344.4 468.3 344.4 469.4C344.4 470.5 344.4 471.5 344.3 472.6C344.2 473.7 343.8 474.7 343.7 475.8C343.5 476.9 343.3 477.9 343.4 479.0C343.5 480.1 344.1 481.1 344.3 482.2C344.6 483.3 345.0 484.3 345.1 485.4C345.1 486.5 344.8 487.9 344.8 488.6C344.7 489.3 344.6 489.3 344.6 489.5" fill="none" stroke="#1c1c1c" stroke-width="1.2"/>
<path d="M246.9 149.7H254.4V203.5M364.3 149.7H356.8V203.5" fill="none" stroke="#1a1a1a" stroke-width="1.5" stroke-linejoin="miter"/>
<path d="M260.2 121.0H268.0V267.5M351.6 121.0H343.8V267.5" fill="none" stroke="#1a1a1a" stroke-width="1.7" stroke-linejoin="miter"/>
<path d="M274.4 110.0H281.6V489.5M337.4 110.0H330.2V489.5" fill="none" stroke="#1a1a1a" stroke-width="2.2" stroke-linejoin="miter"/>
<path d="M268 121.2H281.6M330.2 121.2H343.8M254.4 149.9H268M343.8 149.9H356.8" stroke="#1a1a1a" stroke-width="1.3"/>
<path d="M254.4 195V203.8H239.3Z" fill="#1a1a1a"/>
<path d="M254.4 203.0H239.3" stroke="#1a1a1a" stroke-width="1.7"/>
<path d="M356.8 195V203.8H372.7Z" fill="#1a1a1a"/>
<path d="M356.8 203.0H372.7" stroke="#1a1a1a" stroke-width="1.7"/>
<path d="M268 259.6V267.8H252.0Z" fill="#1a1a1a"/>
<path d="M268 267.0H252.0" stroke="#1a1a1a" stroke-width="1.7"/>
<path d="M343.8 259.8V267.8H359.6Z" fill="#1a1a1a"/>
<path d="M343.8 267.0H359.6" stroke="#1a1a1a" stroke-width="1.7"/>
<path d="M281.6 480.2V489.8H266.0Z" fill="#1a1a1a"/>
<path d="M281.6 489.0H266.0" stroke="#1a1a1a" stroke-width="1.7"/>
<path d="M330.2 480.2V489.8H345.8Z" fill="#1a1a1a"/>
<path d="M330.2 489.0H345.8" stroke="#1a1a1a" stroke-width="1.7"/>
<path d="M241.7 227.0 L299.4 227.0 L303.8 220.8 L306.3 232.4 L310.7 227.0 L370.9 227.0 L369.9 238.6 L310.7 238.6 L306.3 244.0 L303.8 232.4 L299.4 238.6 L242.7 238.6Z" fill="#fdfdfd"/>
<path d="M241.7 227.0 L299.4 227.0 L303.8 220.8 L306.3 232.4 L310.7 227.0 L370.9 227.0" fill="none" stroke="#444" stroke-width="1"/>
<path d="M242.7 238.6 L299.4 238.6 L303.8 232.4 L306.3 244.0 L310.7 238.6 L369.9 238.6" fill="none" stroke="#444" stroke-width="1"/>
<path d="M244.7 369.4 L297.7 369.4 L302.1 363.2 L304.6 374.8 L309.0 369.4 L368.0 369.4 L367.0 381.7 L309.0 381.7 L304.6 387.1 L302.1 375.5 L297.7 381.7 L245.7 381.7Z" fill="#fdfdfd"/>
<path d="M244.7 369.4 L297.7 369.4 L302.1 363.2 L304.6 374.8 L309.0 369.4 L368.0 369.4" fill="none" stroke="#444" stroke-width="1"/>
<path d="M245.7 381.7 L297.7 381.7 L302.1 375.5 L304.6 387.1 L309.0 381.7 L367.0 381.7" fill="none" stroke="#444" stroke-width="1"/>
<clipPath id="cl"><path d="M194.0 495.3 L205.0 491.6 L220.0 488.3 L240.0 485.4 L255.0 483.4 L267.0 482.0 L267.0 489.8 L282.6 489.8 L283.2 497.0 L282.5 505.0 L283.3 512.0 L283.0 518.5 L285.0 521.5 L294.4 522.2 L288.6 524.7 L282.9 527.8 L273.7 530.1 L266.4 531.6 L258.0 533.6 L250.0 535.3 L240.0 537.0 L220.0 539.3 L194.0 540.5Z"/></clipPath>
<path d="M194.0 495.3 L205.0 491.6 L220.0 488.3 L240.0 485.4 L255.0 483.4 L267.0 482.0 L267.0 489.8 L282.6 489.8 L283.2 497.0 L282.5 505.0 L283.3 512.0 L283.0 518.5 L285.0 521.5 L294.4 522.2 L288.6 524.7 L282.9 527.8 L273.7 530.1 L266.4 531.6 L258.0 533.6 L250.0 535.3 L240.0 537.0 L220.0 539.3 L194.0 540.5Z" fill="#fdfdfd"/>
<path clip-path="url(#cl)" d="M136.77 480L185.75 545M141.02 480L190.00 545M145.27 480L194.25 545M149.52 480L198.50 545M153.77 480L202.75 545M158.02 480L207.00 545M162.27 480L211.25 545M166.52 480L215.50 545M170.77 480L219.75 545M175.02 480L224.00 545M179.27 480L228.25 545M183.52 480L232.50 545M187.77 480L236.75 545M192.02 480L241.00 545M196.27 480L245.25 545M200.52 480L249.50 545M204.77 480L253.75 545M209.02 480L258.00 545M213.27 480L262.25 545M217.52 480L266.50 545M221.77 480L270.75 545M226.02 480L275.00 545M230.27 480L279.25 545M234.52 480L283.50 545M238.77 480L287.75 545M243.02 480L292.00 545M247.27 480L296.25 545M251.52 480L300.50 545M255.77 480L304.75 545M260.02 480L309.00 545M264.27 480L313.25 545M268.52 480L317.50 545M272.77 480L321.75 545M277.02 480L326.00 545M281.27 480L330.25 545M285.52 480L334.50 545M289.77 480L338.75 545M294.02 480L343.00 545M298.27 480L347.25 545" stroke="#2a2a2a" stroke-width="0.95" fill="none"/>
<clipPath id="cr"><path d="M344.8 469.0 L360.0 465.3 L380.0 461.3 L400.0 457.0 L420.0 454.3 L440.2 453.0 L442.3 454.7 L439.4 456.4 L441.7 458.1 L439.8 459.8 L442.1 461.5 L439.2 463.2 L442.5 464.9 L439.6 466.6 L441.9 468.3 L439.0 470.0 L442.3 471.7 L439.4 473.4 L441.7 475.1 L439.8 476.8 L442.1 478.5 L439.2 480.2 L442.5 481.9 L439.6 483.6 L441.9 485.3 L439.0 487.0 L442.3 488.7 L439.4 490.4 L441.7 492.1 L440.2 493.2 L420.0 499.0 L400.0 502.2 L380.0 504.8 L355.0 510.0 L331.0 514.5 L330.6 514.5 L331.0 507.0 L330.3 499.0 L331.0 493.0 L330.8 489.8 L345.8 489.8Z"/></clipPath>
<path d="M344.8 469.0 L360.0 465.3 L380.0 461.3 L400.0 457.0 L420.0 454.3 L440.2 453.0 L442.3 454.7 L439.4 456.4 L441.7 458.1 L439.8 459.8 L442.1 461.5 L439.2 463.2 L442.5 464.9 L439.6 466.6 L441.9 468.3 L439.0 470.0 L442.3 471.7 L439.4 473.4 L441.7 475.1 L439.8 476.8 L442.1 478.5 L439.2 480.2 L442.5 481.9 L439.6 483.6 L441.9 485.3 L439.0 487.0 L442.3 488.7 L439.4 490.4 L441.7 492.1 L440.2 493.2 L420.0 499.0 L400.0 502.2 L380.0 504.8 L355.0 510.0 L331.0 514.5 L330.6 514.5 L331.0 507.0 L330.3 499.0 L331.0 493.0 L330.8 489.8 L345.8 489.8Z" fill="#fdfdfd"/>
<path clip-path="url(#cr)" d="M274.01 450L325.25 518M278.26 450L329.50 518M282.51 450L333.75 518M286.76 450L338.00 518M291.01 450L342.25 518M295.26 450L346.50 518M299.51 450L350.75 518M303.76 450L355.00 518M308.01 450L359.25 518M312.26 450L363.50 518M316.51 450L367.75 518M320.76 450L372.00 518M325.01 450L376.25 518M329.26 450L380.50 518M333.51 450L384.75 518M337.76 450L389.00 518M342.01 450L393.25 518M346.26 450L397.50 518M350.51 450L401.75 518M354.76 450L406.00 518M359.01 450L410.25 518M363.26 450L414.50 518M367.51 450L418.75 518M371.76 450L423.00 518M376.01 450L427.25 518M380.26 450L431.50 518M384.51 450L435.75 518M388.76 450L440.00 518M393.01 450L444.25 518M397.26 450L448.50 518M401.51 450L452.75 518M405.76 450L457.00 518M410.01 450L461.25 518M414.26 450L465.50 518M418.51 450L469.75 518M422.76 450L474.00 518M427.01 450L478.25 518M431.26 450L482.50 518M435.51 450L486.75 518M439.76 450L491.00 518" stroke="#2a2a2a" stroke-width="0.95" fill="none"/>
<path d="M194.0 495.3C195.8 494.7 200.7 492.8 205.0 491.6C209.3 490.4 214.2 489.3 220.0 488.3C225.8 487.3 234.2 486.2 240.0 485.4C245.8 484.6 250.5 484.0 255.0 483.4C259.5 482.8 265.0 482.2 267.0 482.0" fill="none" stroke="#1a1a1a" stroke-width="1.7"/>
<path d="M294.4 522.2C293.4 522.6 290.5 523.8 288.6 524.7C286.7 525.6 285.4 526.9 282.9 527.8C280.4 528.7 276.4 529.5 273.7 530.1C270.9 530.7 269.0 531.0 266.4 531.6C263.8 532.2 260.7 533.0 258.0 533.6C255.3 534.2 253.0 534.7 250.0 535.3C247.0 535.9 245.0 536.3 240.0 537.0C235.0 537.7 227.7 538.7 220.0 539.3C212.3 539.9 198.3 540.3 194.0 540.5" fill="none" stroke="#1a1a1a" stroke-width="1.7"/>
<path d="M344.8 469.0C347.3 468.4 354.1 466.6 360.0 465.3C365.9 464.0 373.3 462.7 380.0 461.3C386.7 459.9 393.3 458.2 400.0 457.0C406.7 455.8 413.3 455.0 420.0 454.3C426.7 453.6 436.8 453.2 440.2 453.0" fill="none" stroke="#1a1a1a" stroke-width="1.7"/>
<path d="M440.2 493.2C436.8 494.2 426.7 497.5 420.0 499.0C413.3 500.5 406.7 501.2 400.0 502.2C393.3 503.2 387.5 503.5 380.0 504.8C372.5 506.1 363.2 508.4 355.0 510.0C346.8 511.6 335.0 513.8 331.0 514.5" fill="none" stroke="#1a1a1a" stroke-width="1.7"/>
<path d="M282.6 489.8 L283.2 497.0 L282.5 505.0 L283.3 512.0 L283.0 518.5 L285.0 521.5 L290.0 522.3 L298.0 521.6 L306.0 522.5 L315.0 521.8 L323.0 522.4 L328.5 521.6 L330.8 519.5 L330.6 514.5 L331.0 507.0 L330.3 499.0 L331.0 493.0 L330.8 489.8" fill="#fdfdfd" stroke="#1a1a1a" stroke-width="1.3" stroke-linejoin="round"/>
<path d="M127.5 164.2C128.8 164.2 132.7 164.4 135.5 164.5C138.3 164.5 141.3 164.6 144.2 164.4C147.1 164.2 150.3 163.2 152.9 163.2C155.5 163.3 157.4 164.5 159.8 164.7C162.2 164.9 165.2 164.8 167.4 164.6C169.6 164.5 170.9 164.0 172.8 164.0C174.7 163.9 176.6 164.2 178.8 164.1C181.0 163.9 183.9 163.3 186.1 163.2C188.3 163.2 189.6 163.4 192.0 163.6C194.4 163.8 198.3 164.3 200.7 164.4C203.0 164.6 204.4 164.5 206.3 164.5C208.2 164.4 210.0 164.4 211.8 164.2C213.7 164.0 215.0 163.3 217.4 163.2C219.7 163.1 223.4 163.3 225.8 163.5C228.2 163.8 229.3 164.8 231.7 164.8C234.1 164.8 237.3 163.8 240.2 163.7C243.1 163.5 246.7 164.0 249.0 164.1C251.3 164.1 253.2 164.0 254.0 164.0" fill="none" stroke="#1a1a1a" stroke-width="1.7"/>
<path d="M357.0 164.5C358.4 164.4 362.9 164.2 365.3 164.0C367.7 163.8 369.1 163.2 371.3 163.2C373.6 163.2 376.4 163.9 379.0 164.0C381.6 164.1 384.3 163.8 387.0 163.8C389.7 163.7 392.4 163.5 395.1 163.6C397.8 163.7 400.8 164.3 403.3 164.4C405.8 164.4 407.6 164.2 410.0 164.1C412.4 163.9 415.2 163.4 417.7 163.5C420.2 163.6 422.7 164.3 424.9 164.5C427.1 164.7 428.7 164.5 431.0 164.5C433.3 164.5 436.4 164.7 438.7 164.6C441.1 164.4 442.6 163.4 445.1 163.3C447.5 163.3 450.8 164.5 453.3 164.5C455.8 164.5 457.9 163.4 460.0 163.4C462.1 163.3 463.8 164.0 465.8 164.2C467.8 164.4 469.7 164.8 472.0 164.7C474.2 164.6 476.9 163.7 479.3 163.5C481.8 163.4 484.2 163.6 487.0 163.8C489.7 164.0 493.1 164.6 495.7 164.7C498.3 164.7 500.3 164.3 502.8 164.2C505.2 164.2 508.1 164.5 510.6 164.5C513.0 164.5 516.3 164.1 517.5 164.0" fill="none" stroke="#1a1a1a" stroke-width="1.7"/>
<path d="M174.4 152.6H187.4L180.9 163.4Z" fill="#fdfdfd" stroke="#1a1a1a" stroke-width="1.35"/>
<path d="M137.3 166V320.8 M137.3 361 137.3 383L133.70000000000002 386.2L140.9 389.6L137.3 392.8V488" fill="none" stroke="#2b2b2b" stroke-width="1.2"/>
<path d="M137.3 164.6 L133.9 172.8 L140.8 172.8Z" fill="#1a1a1a"/>
<path d="M137.3 489.4 L133.9 481.2 L140.8 481.2Z" fill="#1a1a1a"/>
<path d="M129 489.9H254" fill="none" stroke="#8a8a8a" stroke-width="1"/>
<path d="M254 489.9H266" fill="none" stroke="#bbb" stroke-width="0.8"/>
<path d="M168.3 166V192.5 M168.3 223 168.3 233L164.70000000000002 236.2L171.9 239.6L168.3 242.8V265" fill="none" stroke="#2b2b2b" stroke-width="1.2"/>
<path d="M168.3 164.6 L164.9 172.8 L171.8 172.8Z" fill="#1a1a1a"/>
<path d="M168.3 266.2 L164.9 258.0 L171.8 258.0Z" fill="#1a1a1a"/>
<path d="M164.8 266.6H248.7" fill="none" stroke="#555" stroke-width="1"/>
<path d="M198.5 166V175.5 M198.5 189.5V202" fill="none" stroke="#2b2b2b" stroke-width="1.2"/>
<path d="M198.5 164.6 L195.1 172.8 L201.9 172.8Z" fill="#1a1a1a"/>
<path d="M198.5 203.4 L195.1 195.2 L201.9 195.2Z" fill="#1a1a1a"/>
<path d="M192.8 203.8H237" fill="none" stroke="#777" stroke-width="1"/>
<path d="M505.8 166V329.5 M505.8 357.6 505.8 420.5L502.2 423.7L509.40000000000003 427.1L505.8 430.3V519" fill="none" stroke="#2b2b2b" stroke-width="1.2"/>
<path d="M505.8 164.6 L502.4 172.8 L509.2 172.8Z" fill="#1a1a1a"/>
<path d="M505.8 520.4 L502.4 512.2 L509.2 512.2Z" fill="#1a1a1a"/>
<path d="M340.8 521.3H512" fill="none" stroke="#333" stroke-width="1.1"/>
<path d="M283.4 533.8V567.5 M329.8 533.8V567.5" fill="none" stroke="#555" stroke-width="1"/>
<path d="M267.8 556.5H277 M336 556.5H343.2" fill="none" stroke="#2b2b2b" stroke-width="1.3"/>
<path d="M283.0 556.5 L275.4 553.3 L275.4 559.7Z" fill="#1a1a1a"/>
<path d="M330.2 556.5 L337.8 553.3 L337.8 559.7Z" fill="#1a1a1a"/>
<path d="M365.5 185.3C371 183.8 378 183.2 385 184.6C392 186 398 186.6 404.5 183.4" fill="none" stroke="#1a1a1a" stroke-width="1.5" stroke-linecap="round"/>
<path d="M359.5 187.1L366.2 181.9L367.7 188.5Z" fill="#1a1a1a" stroke="#f4f4f4" stroke-width="0.7" paint-order="stroke"/>
<path d="M354.5 216.4C360 214.8 368 214.4 375 215.6C382 217 387 221 392.8 224.2" fill="none" stroke="#1a1a1a" stroke-width="1.5" stroke-linecap="round"/>
<path d="M347.6 219.3L354.4 213.9L356 219.9Z" fill="#1a1a1a" stroke="#f4f4f4" stroke-width="0.7" paint-order="stroke"/>
<path d="M341.5 294C347 292.4 354 292.4 360 293.8C367 295.4 372 295 378 292.6" fill="none" stroke="#1a1a1a" stroke-width="1.5" stroke-linecap="round"/>
<path d="M333.8 296.3L340.6 291.1L343.3 297.2Z" fill="#1a1a1a" stroke="#f4f4f4" stroke-width="0.7" paint-order="stroke"/>
<path d="M432.8 437.3C431.5 441.5 425 443 420.5 445C416.5 447 414.6 449.5 413.2 451.6" fill="none" stroke="#1a1a1a" stroke-width="1.4" stroke-linecap="round"/>
<path d="M409.0 456.1L410.8 447.8L417.1 452.6Z" fill="#1a1a1a"/>
</svg>
<div class="l " style="left:181.8px;top:179.01px">120&#39;</div>
<div class="l i" style="left:203.4px;top:179.01px">(37m)</div>
<div class="l " style="left:156.6px;top:193.71px">1400&#39;</div>
<div class="l i" style="left:153.9px;top:206.81px">(427m)</div>
<div class="l " style="left:409.9px;top:178.01px">20&quot;, 94 lb/ft</div>
<div class="l i" style="left:411.0px;top:191.21px">(508mm, 140 kg/m)</div>
<div class="l " style="left:394.6px;top:218.11px">13<span class="fr"><span class="n">3</span>/<span class="d">8</span></span>&quot;, 48 lb/ft</div>
<div class="l i" style="left:396.8px;top:231.81px">(339.7mm, 71.4 kg/m)</div>
<div class="l " style="left:384.4px;top:286.71px">8<span class="fr"><span class="n">5</span>/<span class="d">8</span></span>&quot;, 32 lb/ft</div>
<div class="l i" style="left:385.2px;top:299.51px">(219.1mm, 47.6 kg/m)</div>
<div class="l " style="left:127.0px;top:331.01px">9700&#39;</div>
<div class="l i" style="left:121.2px;top:343.71px">(2956m)</div>
<div class="l " style="left:490.3px;top:334.11px">10000&#39;</div>
<div class="l i" style="left:486.8px;top:346.91px">(3048m)</div>
<div class="l " style="left:410.9px;top:411.81px">Production</div>
<div class="l " style="left:424.8px;top:424.61px">Zone</div>
<div class="l " style="left:296.0px;top:549.11px">7<span class="fr"><span class="n">7</span>/<span class="d">8</span></span>&quot;</div>
<div class="l i" style="left:285.0px;top:562.47px;font-size:10.9px">(200mm)</div>
<div class="l " style="left:348.2px;top:552.31px">Open Hole Bit Size</div>
<div style="position:absolute;left:90px;top:596.9px;width:467.6px;height:1.3px;background:#2e2e2e"></div>
<div class="hd" style="left:90.3px;top:600.5px;font-size:12.2px;font-weight:bold;transform:scaleX(.835);transform-origin:0 0">FIGURE 12-3.</div>
<div class="hd" style="left:161.5px;top:602.0px;font-size:11.35px;letter-spacing:0;-webkit-text-stroke:.2px #111">Underbalanced drilling of example well.</div>
<div class="b j" style="top:637.5px">float valves. The well head at the surface will have a rotating control head (i.e.,</div>
<div class="b j" style="top:653.5px">RCH) capable of controlling surface annulus pressures up to 1500&#8201;psia</div>
<div class="b j" style="top:669.5px">(<i>1035&#8201;N/cm<sup>2</sup> abs</i>). This RCH is essential to plans for drilling through the reser-</div>
<div class="b " style="top:685.5px">voir underbalanced.</div>
<div class="b j ind" style="top:701.5px">As drilling progresses through the reservoir formation, connections will need</div>
<div class="b j" style="top:717.5px">to be made. To keep the well underbalanced while connections are made, the</div>
<div class="b j" style="top:733.5px">drill string will be stripped from the well through the RCH. The well will be</div>
<div class="b j" style="top:749.5px">allowed to flow during connection operations. When the drill bit has been</div>
<div class="b j" style="top:765.5px">advanced to the bottom of the reservoir or, if necessary, slightly into the rock for-</div>
<div class="b j" style="top:781.5px">mation below the reservoir, the drill string can be removed from the well via</div>
<div class="b " style="top:797.5px">stripping and snubbing operations.</div>
</body></html>
